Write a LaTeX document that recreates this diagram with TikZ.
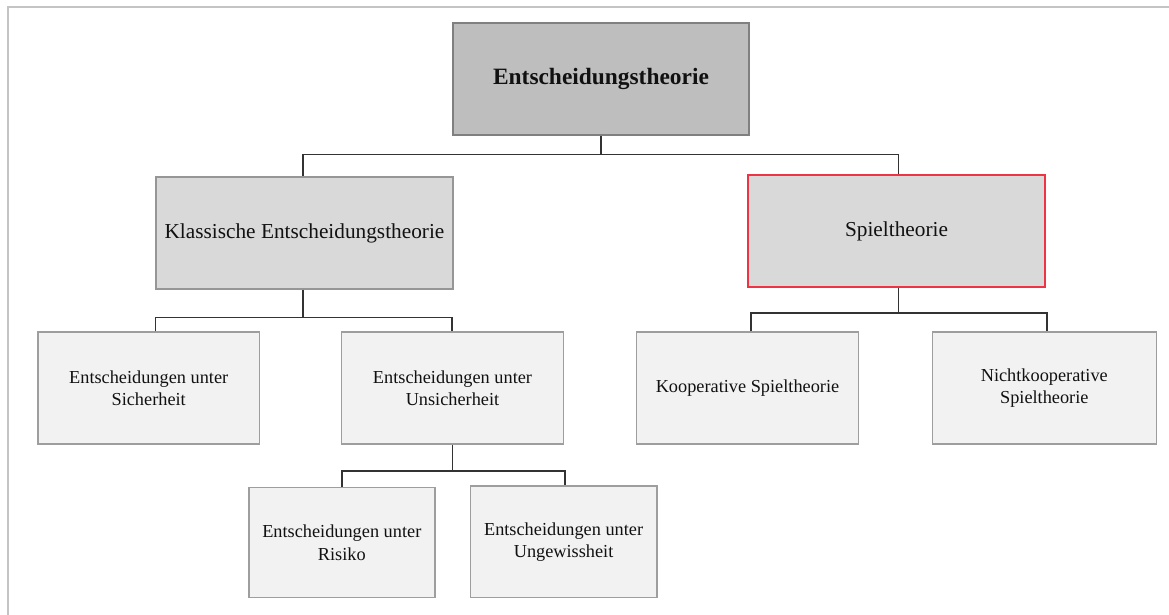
\documentclass[tikz,border=0pt]{standalone}
\usepackage{fontspec}
\setmainfont{Liberation Serif}
\definecolor{rootfill}{HTML}{BEBEBE}
\definecolor{rootline}{HTML}{808080}
\definecolor{midfill}{HTML}{D9D9D9}
\definecolor{midline}{HTML}{969696}
\definecolor{leaffill}{HTML}{F2F2F2}
\definecolor{leafline}{HTML}{9E9E9E}
\definecolor{accentline}{HTML}{EE3344}
\definecolor{connline}{HTML}{333333}
\definecolor{framecol}{HTML}{C4C4C4}
\definecolor{textcol}{HTML}{111111}
\begin{document}
\begin{tikzpicture}[x=1pt,y=-1pt,
  box/.style={draw, rectangle, line width=1.5pt, align=center, inner sep=0pt, text=textcol},
  rootbox/.style={box, fill=rootfill, draw=rootline, minimum width=296pt, minimum height=112pt,
    font=\fontsize{23.4}{28}\selectfont\bfseries},
  midbox/.style={box, fill=midfill, draw=midline, minimum width=297pt, minimum height=112pt,
    font=\fontsize{21.3}{26}\selectfont},
  leafbox/.style={box, fill=leaffill, draw=leafline, minimum height=112pt,
    font=\fontsize{18.3}{22.3}\selectfont},
  conn/.style={draw=connline, line width=1.6pt}
]
\useasboundingbox (0,0) rectangle (1169,615);

% page frame (top and left edges)
\draw[framecol, line width=1.5pt] (8,615) -- (8,6.8) -- (1169,6.8);

% top level
\node[rootbox] (root) at (601,79) {Entscheidungstheorie};

% second level
\node[midbox] (klass) at (304.5,233) {Klassische Entscheidungstheorie};
\node[midbox, draw=accentline] (spiel) at (896.5,231) {Spieltheorie};

% third level
\node[leafbox, minimum width=221.5pt] (sich) at (148.7,388) {Entscheidungen unter\\Sicherheit};
\node[leafbox, minimum width=222pt] (unsich) at (452.5,388) {Entscheidungen unter\\Unsicherheit};
\node[leafbox, minimum width=222.4pt] (koop) at (747.5,388) {Kooperative Spieltheorie};
\node[leafbox, minimum width=224pt] (nicht) at (1044.3,388) {Nichtkooperative\\Spieltheorie};

% fourth level
\node[leafbox, minimum width=186pt, minimum height=110pt] (risiko) at (341.8,542.7) {Entscheidungen unter\\Risiko};
\node[leafbox, minimum width=186.7pt, minimum height=111.7pt] (ungew) at (563.6,541.8) {Entscheidungen unter\\Ungewissheit};

% junction points
\path (root.south) ++(0,18.7) coordinate (j0);
\path (klass.south) ++(0,27.7) coordinate (j1);
\path (spiel.south) ++(0,25) coordinate (j2);
\path (unsich.south) ++(0,26) coordinate (j3);

% connectors
\draw[conn] (root.south) -- (j0);
\draw[conn] ([xshift=-1.8pt]klass.north) |- (j0) -| ([xshift=1.8pt]spiel.north);

\draw[conn] ([xshift=-1.8pt]klass.south) -- ([xshift=-1.8pt]j1);
\draw[conn] ([xshift=6.7pt]sich.north) |- ([xshift=-1.8pt]j1) -| ([xshift=-0.5pt]unsich.north);

\draw[conn] ([xshift=1.8pt]spiel.south) -- ([xshift=1.8pt]j2);
\draw[conn] ([xshift=3.5pt]koop.north) |- ([xshift=1.8pt]j2) -| ([xshift=2.7pt]nicht.north);

\draw[conn] (unsich.south) -- (j3);
\draw[conn] (risiko.north) |- (j3) -| ([xshift=1.4pt]ungew.north);
\end{tikzpicture}
\end{document}
